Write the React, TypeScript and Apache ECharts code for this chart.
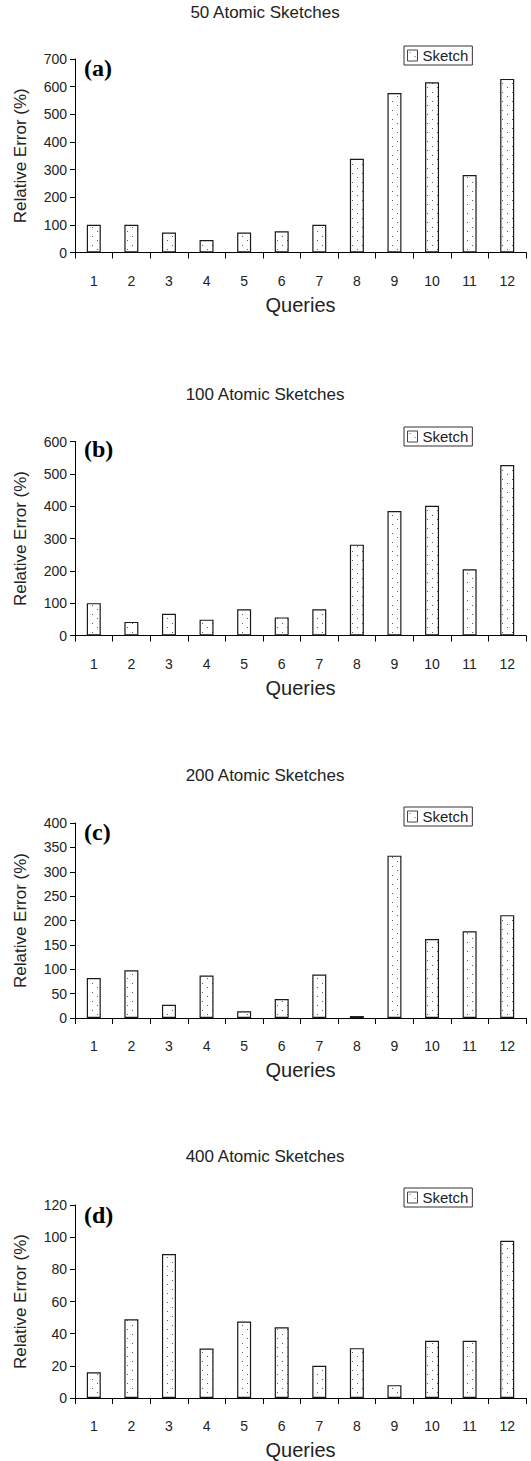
import React, { useEffect, useRef } from "react";
import * as echarts from "echarts";

// Query ids along the x axis
const CATEGORIES = ["1", "2", "3", "4", "5", "6", "7", "8", "9", "10", "11", "12"];

// Relative error (%) of the sketch estimate, per query, for each sketch budget
const SKETCH_50 = [100, 100, 72, 45, 72, 77, 100, 339, 577, 616, 280, 628];
const SKETCH_100 = [100, 42, 67, 49, 81, 56, 81, 281, 385, 401, 205, 527];
const SKETCH_200 = [82, 98, 27, 87, 14, 39, 89, 4, 333, 162, 178, 211];
const SKETCH_400 = [16, 49, 89.5, 30.7, 47.6, 44, 20, 31, 8, 35.6, 35.6, 97.7];

const TITLES = ["50 Atomic Sketches", "100 Atomic Sketches", "200 Atomic Sketches", "400 Atomic Sketches"];
const PANEL_TAGS = ["(a)", "(b)", "(c)", "(d)"];
const Y_MAX = [700, 600, 400, 120];
const Y_STEP = [100, 100, 50, 20];
const SERIES_NAME = "Sketch";

const FONT = "'Liberation Sans', Arial, sans-serif";
const TEXT_COLOR = "#222";

// Panel layout (pixels)
const GRID_LEFT = 75;
const GRID_WIDTH = 451;
const GRID_TOP = [59, 441.5, 823, 1205];
const GRID_HEIGHT = [193.5, 194, 195, 195.5];
const TITLE_Y = [13, 395, 776, 1157];
const TAG_Y = [68, 449, 832, 1215];
const LEGEND_TOP = [46, 427, 807, 1188];

function makeDotPattern(): HTMLCanvasElement {
  const c = document.createElement("canvas");
  c.width = 10;
  c.height = 9;
  const ctx = c.getContext("2d")!;
  ctx.fillStyle = "#ffffff";
  ctx.fillRect(0, 0, 10, 9);
  ctx.fillStyle = "#5e5e5e";
  ctx.fillRect(2, 2, 1, 1);
  ctx.fillRect(7, 6, 1, 1);
  return c;
}

export default function App() {
  const ref = useRef<HTMLDivElement>(null);

  useEffect(() => {
    if (!ref.current) return;
    const chart = echarts.init(ref.current, undefined, { renderer: "svg" });
    const pattern = { image: makeDotPattern(), repeat: "repeat" };
    const datasets = [SKETCH_50, SKETCH_100, SKETCH_200, SKETCH_400];

    const grid: any[] = [];
    const xAxis: any[] = [];
    const yAxis: any[] = [];
    const series: any[] = [];
    const legend: any[] = [];
    const graphic: any[] = [];

    datasets.forEach((values, i) => {
      grid.push({ left: GRID_LEFT, width: GRID_WIDTH, top: GRID_TOP[i], height: GRID_HEIGHT[i], containLabel: false });
      xAxis.push({
        type: "category",
        gridIndex: i,
        data: CATEGORIES,
        boundaryGap: true,
        name: "Queries",
        nameLocation: "middle",
        nameGap: 42,
        nameTextStyle: { fontFamily: FONT, fontSize: 20, color: TEXT_COLOR },
        axisLine: { show: true, lineStyle: { color: "#000", width: 1 } },
        axisTick: { show: true, length: 6, inside: false, lineStyle: { color: "#000", width: 1 } },
        axisLabel: { margin: 21, fontFamily: FONT, fontSize: 14, color: TEXT_COLOR },
        splitLine: { show: false },
      });
      yAxis.push({
        type: "value",
        gridIndex: i,
        min: 0,
        max: Y_MAX[i],
        interval: Y_STEP[i],
        name: "Relative Error (%)",
        nameLocation: "middle",
        nameGap: 46,
        nameTextStyle: { fontFamily: FONT, fontSize: 17, color: TEXT_COLOR },
        axisLine: { show: true, lineStyle: { color: "#000", width: 1 } },
        axisTick: { show: true, length: 5, inside: false, lineStyle: { color: "#000", width: 1 } },
        axisLabel: { margin: 8, fontFamily: FONT, fontSize: 14, color: TEXT_COLOR },
        splitLine: { show: false },
      });
      series.push({
        type: "bar",
        name: SERIES_NAME,
        xAxisIndex: i,
        yAxisIndex: i,
        data: values,
        barWidth: 14,
        itemStyle: { color: pattern, borderColor: "#1a1a1a", borderWidth: 1.2 },
      });
      legend.push({
        data: [SERIES_NAME],
        left: 404,
        top: LEGEND_TOP[i],
        orient: "horizontal",
        icon: "rect",
        itemWidth: 10,
        itemHeight: 11,
        itemGap: 4,
        padding: [2, 4, 2, 3],
        borderColor: "#333",
        borderWidth: 1,
        backgroundColor: "#fff",
        borderRadius: 0,
        selectedMode: false,
        itemStyle: { borderColor: "#444", borderWidth: 1 },
        textStyle: { fontFamily: FONT, fontSize: 15, color: TEXT_COLOR, padding: [0, 0, 0, 0] },
      });
      graphic.push({
        type: "text",
        left: "center",
        top: TITLE_Y[i] - 9,
        style: { text: TITLES[i], font: `17px ${FONT}`, fill: TEXT_COLOR },
      });
      graphic.push({
        type: "text",
        x: 84,
        y: TAG_Y[i],
        style: {
          text: PANEL_TAGS[i],
          font: `bold 24px 'Liberation Serif', 'Times New Roman', serif`,
          fill: "#000",
          verticalAlign: "middle",
        },
      });
    });

    chart.setOption({
      animation: false,
      backgroundColor: "#fff",
      grid,
      xAxis,
      yAxis,
      series,
      legend,
      graphic,
    });

    return () => chart.dispose();
  }, []);

  return (
    <div
      ref={ref}
      style={{ position: "absolute", left: 0, top: 0, width: 531, height: 1461, background: "#fff" }}
    />
  );
}
